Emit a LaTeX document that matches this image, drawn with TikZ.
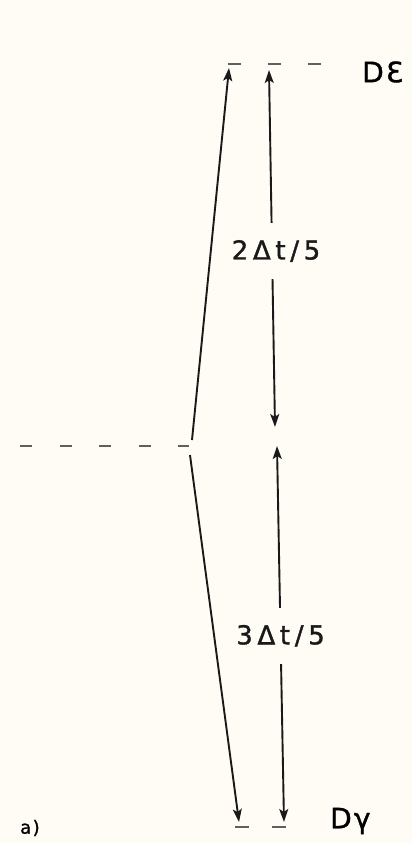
\documentclass[tikz,border=0pt]{standalone}
\usepackage{fontspec}
\usetikzlibrary{arrows.meta}
\newfontfamily\lett[LetterSpace=18,FakeBold=1.3]{DejaVu Sans}
\newfontfamily\plainlett[LetterSpace=8,FakeBold=1.3]{DejaVu Sans}
\definecolor{bg}{RGB}{254,252,245}
\definecolor{ink}{RGB}{25,25,25}
\definecolor{dashc}{RGB}{95,95,95}
\begin{document}
\begin{tikzpicture}[x=1pt,y=-1pt,
  arr/.style={ink, line width=1.9pt, -{Stealth[length=13pt,width=9pt,inset=3pt]}},
  darr/.style={ink, line width=1.9pt, {Stealth[length=13pt,width=9pt,inset=3pt]}-{Stealth[length=13pt,width=9pt,inset=3pt]}},
  lvl/.style={dashc, line width=2.2pt},
  lab/.style={font=\lett\fontsize{26}{26}\selectfont, fill=bg, inner sep=0pt, minimum height=56pt},
  tag/.style={font=\plainlett\fontsize{28}{28}\selectfont, inner sep=0pt, anchor=west}]
\useasboundingbox[fill=bg] (0,0) rectangle (412,843);
% levels
\coordinate (t0) at (228,64);
\coordinate (t1) at (321,64);
\draw[lvl, dash pattern=on 13pt off 27pt] (t0) -- (t1);
\coordinate (m0) at (20,446);
\coordinate (m1) at (189,446);
\draw[lvl, dash pattern=on 12pt off 27.5pt] (m0) -- (m1);
\coordinate (b0) at (235,827);
\coordinate (b1) at (292,827);
\draw[lvl, dash pattern=on 14pt off 23pt] (b0) -- (b1);
% left arrows
\coordinate (ml) at (192,440);
\coordinate (ml2) at (190,455);
\coordinate (tl) at (229,68);
\coordinate (bl) at (239,822);
\draw[arr] (ml) -- (tl);
\draw[arr] (ml2) -- (bl);
% right arrows
\coordinate (tr) at (269,70);
\coordinate (mr1) at (275,427);
\coordinate (mr2) at (277,446);
\coordinate (br) at (284,822);
\draw[darr] (tr) -- (mr1) node[lab, pos=0.507, xshift=4pt] (l1) {2Δt/5};
\draw[darr] (mr2) -- (br) node[lab, pos=0.505] (l2) {3Δt/5};
% tags
\node[tag] (de) at (362,72) {DƐ};
\node[tag] (dg) at (330,821) {Dγ};
\node[font=\plainlett\fontsize{18}{18}\selectfont, inner sep=0pt] (a) at (30,828) {a)};
\end{tikzpicture}
\end{document}
